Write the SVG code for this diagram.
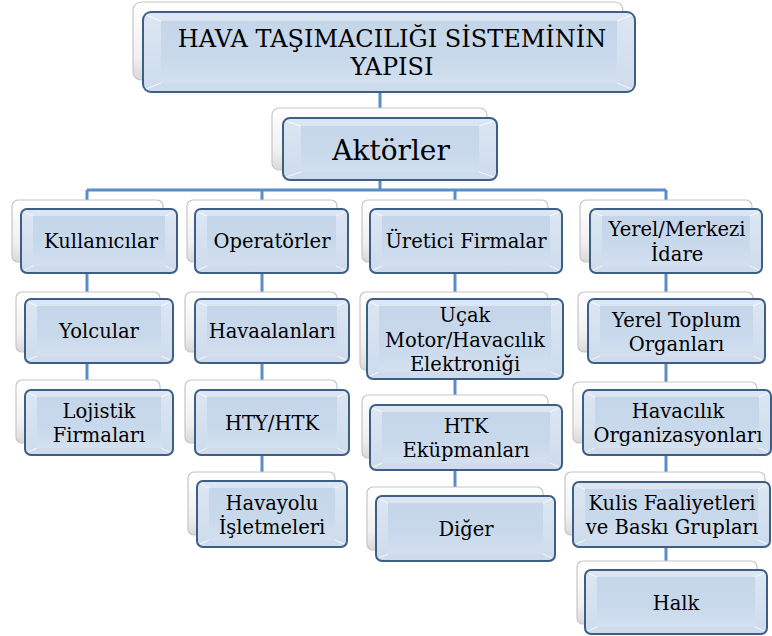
<svg xmlns="http://www.w3.org/2000/svg" width="772" height="636" viewBox="0 0 772 636">
<defs>
<linearGradient id="gBack" x1="0" y1="0" x2="0" y2="1"><stop offset="0" stop-color="#ffffff"/><stop offset="0.7" stop-color="#f0f0f0"/><stop offset="1" stop-color="#d9d9d9"/></linearGradient>
<linearGradient id="gFront" x1="0" y1="0" x2="0" y2="1"><stop offset="0" stop-color="#dde7f3"/><stop offset="1" stop-color="#cddbec"/></linearGradient>
<linearGradient id="gInner" x1="0" y1="0" x2="0" y2="1"><stop offset="0" stop-color="#c6d6ea"/><stop offset="0.6" stop-color="#c9d9ec"/><stop offset="1" stop-color="#d3e0ef"/></linearGradient>
<style>
.bk{fill:url(#gBack);stroke:#c6c6c6;stroke-width:1.2}
.fr{fill:url(#gFront);stroke:#3d5f86;stroke-width:2}
.in{fill:url(#gInner)}
.dg{fill:none;stroke:#ffffff;stroke-opacity:0.8;stroke-width:1}
.cn{fill:none;stroke:#5a8dc6;stroke-width:3}
text{font-family:"DejaVu Serif",serif;font-size:19.5px;fill:#000;text-anchor:middle}
.t1{font-size:24px}
.t2{font-size:28px}
</style>
</defs>
<rect width="772" height="636" fill="#ffffff"/>
<g id="connectors">
<path class="cn" d="M380 80V190 M87 190H666 M87 190V380 M262 190V472 M455 190V487 M666 190V561"/>
</g>
<g id="n-title">
<rect class="bk" x="133" y="2" width="490" height="78" rx="8"/>
<rect class="fr" x="143" y="12" width="492" height="80" rx="8"/>
<rect class="in" x="161" y="21" width="456" height="62"/>
<path class="dg" d="M146 15L161 21 M632 15L617 21 M146 89L161 83 M632 89L617 83"/>
<text class="t1" x="392" y="47">HAVA TAŞIMACILIĞI SİSTEMİNİN</text>
<text class="t1" x="392" y="75">YAPISI</text>
</g>
<g id="n-aktorler">
<rect class="bk" x="272" y="108" width="215" height="62" rx="7"/>
<rect class="fr" x="283" y="118" width="214" height="62" rx="7"/>
<rect class="in" x="301" y="126" width="178" height="46"/>
<path class="dg" d="M286 121L301 126 M494 121L479 126 M286 177L301 172 M494 177L479 172"/>
<text class="t2" x="391" y="160">Aktörler</text>
</g>
<g id="n-kullanicilar">
<rect class="bk" x="12" y="200" width="151" height="62" rx="6"/>
<rect class="fr" x="21" y="209" width="156" height="64" rx="6"/>
<rect class="in" x="33" y="216" width="132" height="50"/>
<path class="dg" d="M24 212L33 216 M174 212L165 216 M24 270L33 266 M174 270L165 266"/>
<text x="101" y="248">Kullanıcılar</text>
</g>
<g id="n-operatorler">
<rect class="bk" x="187" y="200" width="150" height="62" rx="6"/>
<rect class="fr" x="195" y="209" width="153" height="64" rx="6"/>
<rect class="in" x="207" y="216" width="129" height="50"/>
<path class="dg" d="M198 212L207 216 M345 212L336 216 M198 270L207 266 M345 270L336 266"/>
<text x="272" y="248">Operatörler</text>
</g>
<g id="n-uretici">
<rect class="bk" x="362" y="200" width="186" height="62" rx="6"/>
<rect class="fr" x="370" y="209" width="192" height="64" rx="6"/>
<rect class="in" x="382" y="216" width="168" height="50"/>
<path class="dg" d="M373 212L382 216 M559 212L550 216 M373 270L382 266 M559 270L550 266"/>
<text x="466" y="248">Üretici Firmalar</text>
</g>
<g id="n-yerel-merkezi">
<rect class="bk" x="580" y="200" width="172" height="62" rx="6"/>
<rect class="fr" x="590" y="209" width="172" height="64" rx="6"/>
<rect class="in" x="602" y="216" width="148" height="50"/>
<path class="dg" d="M593 212L602 216 M759 212L750 216 M593 270L602 266 M759 270L750 266"/>
<text x="677" y="236">Yerel/Merkezi</text>
<text x="677" y="261">İdare</text>
</g>
<g id="n-yolcular">
<rect class="bk" x="16" y="292" width="144" height="60" rx="6"/>
<rect class="fr" x="25" y="299" width="148" height="64" rx="6"/>
<rect class="in" x="37" y="306" width="124" height="50"/>
<path class="dg" d="M28 302L37 306 M170 302L161 306 M28 360L37 356 M170 360L161 356"/>
<text x="99" y="338">Yolcular</text>
</g>
<g id="n-havaalanlari">
<rect class="bk" x="185" y="292" width="152" height="60" rx="6"/>
<rect class="fr" x="195" y="299" width="154" height="64" rx="6"/>
<rect class="in" x="207" y="306" width="130" height="50"/>
<path class="dg" d="M198 302L207 306 M346 302L337 306 M198 360L207 356 M346 360L337 356"/>
<text x="272" y="338">Havaalanları</text>
</g>
<g id="n-ucak">
<rect class="bk" x="360" y="292" width="188" height="78" rx="6"/>
<rect class="fr" x="367" y="299" width="196" height="80" rx="6"/>
<rect class="in" x="379" y="306" width="172" height="66"/>
<path class="dg" d="M370 302L379 306 M560 302L551 306 M370 376L379 372 M560 376L551 372"/>
<text x="465" y="322">Uçak</text>
<text x="465" y="346.5">Motor/Havacılık</text>
<text x="465" y="371">Elektroniği</text>
</g>
<g id="n-yerel-toplum">
<rect class="bk" x="578" y="292" width="175" height="60" rx="6"/>
<rect class="fr" x="588" y="299" width="177" height="64" rx="6"/>
<rect class="in" x="600" y="306" width="153" height="50"/>
<path class="dg" d="M591 302L600 306 M762 302L753 306 M591 360L600 356 M762 360L753 356"/>
<text x="676.5" y="326.5">Yerel Toplum</text>
<text x="676.5" y="351">Organları</text>
</g>
<g id="n-lojistik">
<rect class="bk" x="16" y="380" width="144" height="63" rx="6"/>
<rect class="fr" x="25" y="390" width="148" height="65" rx="6"/>
<rect class="in" x="37" y="397" width="124" height="51"/>
<path class="dg" d="M28 393L37 397 M170 393L161 397 M28 452L37 448 M170 452L161 448"/>
<text x="99" y="417.5">Lojistik</text>
<text x="99" y="442">Firmaları</text>
</g>
<g id="n-hty-htk">
<rect class="bk" x="185" y="380" width="152" height="63" rx="6"/>
<rect class="fr" x="195" y="390" width="154" height="65" rx="6"/>
<rect class="in" x="207" y="397" width="130" height="51"/>
<path class="dg" d="M198 393L207 397 M346 393L337 397 M198 452L207 448 M346 452L337 448"/>
<text x="272" y="430">HTY/HTK</text>
</g>
<g id="n-htk-ekupmanlari">
<rect class="bk" x="362" y="395" width="186" height="63" rx="6"/>
<rect class="fr" x="370" y="405" width="192" height="65" rx="6"/>
<rect class="in" x="382" y="412" width="168" height="51"/>
<path class="dg" d="M373 408L382 412 M559 408L550 412 M373 467L382 463 M559 467L550 463"/>
<text x="466" y="432.5">HTK</text>
<text x="466" y="457">Eküpmanları</text>
</g>
<g id="n-havacilik-org">
<rect class="bk" x="573" y="382" width="184" height="61" rx="6"/>
<rect class="fr" x="583" y="390" width="188" height="65" rx="6"/>
<rect class="in" x="595" y="397" width="164" height="51"/>
<path class="dg" d="M586 393L595 397 M768 393L759 397 M586 452L595 448 M768 452L759 448"/>
<text x="678" y="417.5">Havacılık</text>
<text x="678" y="442" font-size="18.5">Organizasyonları</text>
</g>
<g id="n-havayolu">
<rect class="bk" x="188" y="472" width="147" height="63" rx="6"/>
<rect class="fr" x="197" y="481" width="150" height="66" rx="6"/>
<rect class="in" x="209" y="488" width="126" height="52"/>
<path class="dg" d="M200 484L209 488 M344 484L335 488 M200 544L209 540 M344 544L335 540"/>
<text x="272" y="509.5">Havayolu</text>
<text x="272" y="534">İşletmeleri</text>
</g>
<g id="n-diger">
<rect class="bk" x="367" y="487" width="176" height="63" rx="6"/>
<rect class="fr" x="376" y="496" width="179" height="65" rx="6"/>
<rect class="in" x="388" y="503" width="155" height="51"/>
<path class="dg" d="M379 499L388 503 M552 499L543 503 M379 558L388 554 M552 558L543 554"/>
<text x="466" y="536">Diğer</text>
</g>
<g id="n-kulis">
<rect class="bk" x="565" y="472" width="200" height="63" rx="6"/>
<rect class="fr" x="573" y="482" width="197" height="65" rx="6"/>
<rect class="in" x="585" y="489" width="173" height="51"/>
<path class="dg" d="M576 485L585 489 M767 485L758 489 M576 544L585 540 M767 544L758 540"/>
<text x="672" y="509.5">Kulis Faaliyetleri</text>
<text x="672" y="534">ve Baskı Grupları</text>
</g>
<g id="n-halk">
<rect class="bk" x="577" y="561" width="180" height="63" rx="6"/>
<rect class="fr" x="585" y="570" width="182" height="64" rx="6"/>
<rect class="in" x="597" y="577" width="158" height="50"/>
<path class="dg" d="M588 573L597 577 M764 573L755 577 M588 631L597 627 M764 631L755 627"/>
<text x="676" y="609.5">Halk</text>
</g>
</svg>
